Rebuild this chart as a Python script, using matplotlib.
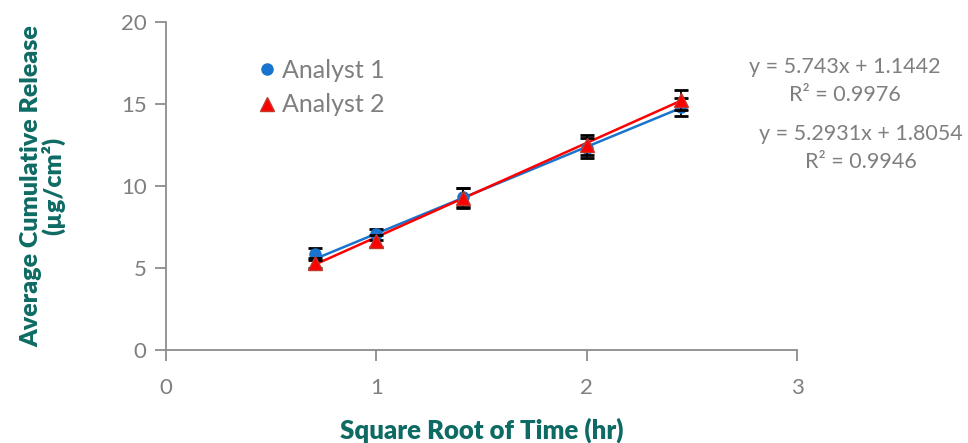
import numpy as np
import matplotlib.pyplot as plt
from matplotlib.lines import Line2D

plt.rcParams['font.family'] = ['Lato', 'DejaVu Sans']

# sqrt of sampling times (0.5, 1, 2, 4, 6 hr)
x = [0.707, 1.0, 1.414, 2.0, 2.449]
analyst1 = [5.85, 7.05, 9.3, 12.3, 14.8]
analyst1_err = [0.35, 0.35, 0.55, 0.6, 0.55]
analyst2 = [5.3, 6.65, 9.25, 12.5, 15.25]
analyst2_err = [0.3, 0.35, 0.6, 0.6, 0.6]

fit1 = (5.2931, 1.8054)
fit2 = (5.743, 1.1442)
eq1 = "y = 5.2931x + 1.8054\nR² = 0.9946"
eq2 = "y = 5.743x + 1.1442\nR² = 0.9976"

teal = '#0E6B64'
grey = '#7F7F7F'
blue = '#1874CD'
red = '#FF0000'

fig = plt.figure(figsize=(9.68, 4.43), dpi=100)
ax = fig.add_axes([0.1715, 0.2099, 0.652, 0.7404])

xs = np.array([min(x), max(x)])
ax.plot(xs, fit1[0] * xs + fit1[1], color=blue, lw=1.8, zorder=2)
ax.plot(xs, fit2[0] * xs + fit2[1], color=red, lw=1.8, zorder=2)

ax.errorbar(x, analyst1, yerr=analyst1_err, fmt='o', color=blue, ms=8,
            ecolor='black', elinewidth=1.3, capsize=5, capthick=2, zorder=3)
ax.errorbar(x, analyst2, yerr=analyst2_err, fmt='^', color=red, ms=10,
            mec='#C0392B', ecolor='black', elinewidth=1.3, capsize=5,
            capthick=2, zorder=4)

ax.set_xlim(0, 3)
ax.set_ylim(0, 20)
ax.set_xticks([0, 1, 2, 3])
ax.set_yticks([0, 5, 10, 15, 20])

for s in ['top', 'right']:
    ax.spines[s].set_visible(False)
for s in ['left', 'bottom']:
    ax.spines[s].set_color('#8C8C8C')
    ax.spines[s].set_linewidth(1.3)
ax.tick_params(direction='out', length=8, width=1.3, color='#8C8C8C',
               labelcolor=grey, labelsize=16)
ax.tick_params(axis='y', pad=6)
ax.tick_params(axis='x', pad=12)

ax.set_xlabel('Square Root of Time (hr)', fontsize=18.5, fontweight='heavy',
              color=teal, labelpad=14)
ax.set_ylabel('Average Cumulative Release\n(µg/cm²)', fontsize=18,
              fontweight='heavy', color=teal, labelpad=40, linespacing=0.95)

handles = [Line2D([], [], ls='none', marker='o', color=blue, ms=8),
           Line2D([], [], ls='none', marker='^', color=red, mec='#C0392B', ms=10)]
ax.legend(handles, ['Analyst 1', 'Analyst 2'], loc='upper left',
          bbox_to_anchor=(0.117, 0.925), frameon=False, borderpad=0,
          fontsize=18, handletextpad=0.0, labelspacing=0.45,
          handlelength=1.2, labelcolor=grey)

fig.text(0.873, 0.817, eq2, ha='center', va='center', fontsize=15.5,
         color=grey, linespacing=1.5)
fig.text(0.889, 0.665, eq1, ha='center', va='center', fontsize=15.5,
         color=grey, linespacing=1.5)

fig.savefig('out.png', dpi=100)
